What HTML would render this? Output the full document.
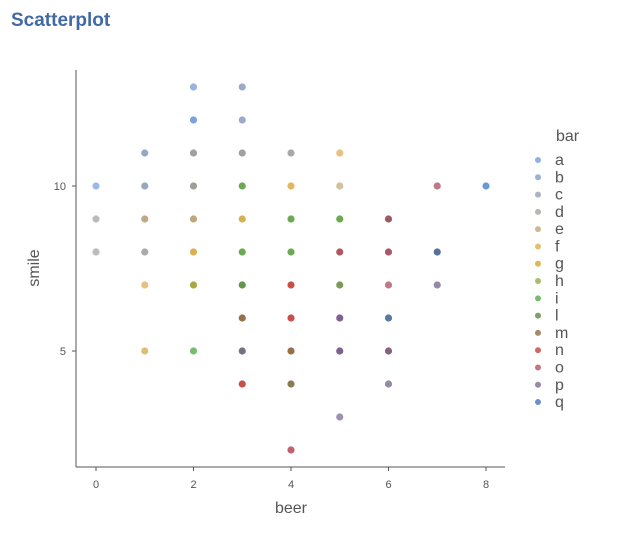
<!DOCTYPE html>
<html><head><meta charset="utf-8"><style>
body{margin:0;background:#fff;}
svg{display:block;font-family:"Liberation Sans",sans-serif;}
</style></head><body>
<svg id="c" width="635" height="539">
<text x="11" y="26" font-size="19" font-weight="bold" fill="#4169a8">Scatterplot</text>
<line x1="76" y1="70" x2="76" y2="467" stroke="#555" stroke-width="1"/>
<line x1="76" y1="467" x2="505" y2="467" stroke="#555" stroke-width="1"/>
<text x="291" y="513" font-size="16" fill="#555" text-anchor="middle">beer</text>
<text transform="translate(39,268) rotate(-90)" font-size="16" fill="#555" text-anchor="middle">smile</text>
<text x="556" y="141" font-size="16" fill="#555">bar</text>
<g id="ticks"></g><g id="pts"></g><g id="leg"></g>
</svg>
<script>
const xTicks=[0,2,4,6,8];
const yTicks=[5,10];
const xs=[0,0,0,1,1,1,1,1,1,2,2,2,2,2,2,2,2,3,3,3,3,3,3,3,3,3,3,4,4,4,4,4,4,4,4,4,5,5,5,5,5,5,5,5,6,6,6,6,6,6,7,7,7,8];
const ys=[10,9,8,11,10,9,8,7,5,13,12,11,10,9,8,7,5,13,12,11,10,9,8,7,6,5,4,11,10,9,8,7,6,5,4,2,11,10,9,8,7,6,5,3,9,8,7,6,5,4,10,8,7,10];
const cols=["#9ab8e8","#bbbbbb","#bbbbbb","#98a8c0","#98a8c0","#c0a880","#aaaaaa","#e8c080","#e0c070","#9ab0e0","#7fa0e0","#a0a0a0","#a09c98","#bca878","#dcb050","#a8a840","#7cbc70","#9aaac8","#9aaac8","#a0a0a0","#6aaa50","#d8b050","#6aaa50","#609848","#987048","#787080","#c85048","#a8a8a8","#e0b860","#6aaa50","#6aaa50","#c85048","#c85048","#987048","#907850","#c06070","#e8c080","#d0c0a0","#6aaa50","#b05860","#7a9a58","#806090","#806090","#a090b0","#a05860","#a85868","#c07888","#5878a8","#886080","#9888a8","#c07888","#5870a0","#9888a8","#6a98d0"];
const legKeys=["a","b","c","d","e","f","g","h","i","l","m","n","o","p","q"];
const legCols=["#8fb0e8","#9ab0d8","#a8b4c4","#bbb6b0","#cdb990","#e8bd70","#d8bc58","#aabd6a","#7cba70","#7fa062","#a88868","#d06860","#c07880","#9a88a8","#6a90c8"];
const NS="http://www.w3.org/2000/svg";
function sx(v){return 96+v*48.75;}
function sy(v){return 516-v*33;}
const tk=document.getElementById('ticks');
xTicks.forEach(v=>{const t=document.createElementNS(NS,'text');t.setAttribute('x',sx(v));t.setAttribute('y',488);t.setAttribute('font-size','11');t.setAttribute('fill','#555');t.setAttribute('text-anchor','middle');t.textContent=v;


tk.appendChild(t);
const l=document.createElementNS(NS,'line');l.setAttribute('x1',sx(v));l.setAttribute('x2',sx(v));l.setAttribute('y1',467);l.setAttribute('y2',471);l.setAttribute('stroke','#555');


tk.appendChild(l);});
yTicks.forEach(v=>{const t=document.createElementNS(NS,'text');t.setAttribute('x',66);t.setAttribute('y',sy(v)+4);t.setAttribute('font-size','11');t.setAttribute('fill','#555');t.setAttribute('text-anchor','end');t.textContent=v;


tk.appendChild(t);
const l=document.createElementNS(NS,'line');l.setAttribute('x1',72);l.setAttribute('x2',76);l.setAttribute('y1',sy(v));l.setAttribute('y2',sy(v));l.setAttribute('stroke','#555');


tk.appendChild(l);});
const pg=document.getElementById('pts');
xs.forEach((x,i)=>{const c=document.createElementNS(NS,'circle');c.setAttribute('cx',sx(x));c.setAttribute('cy',sy(ys[i]));c.setAttribute('r','3.6');c.setAttribute('fill',cols[i]);


pg.appendChild(c);});
const lg=document.getElementById('leg');
legKeys.forEach((k,i)=>{const y=160+i*17.29;const g=document.createElementNS(NS,'g');


const c=document.createElementNS(NS,'circle');c.setAttribute('cx',538);c.setAttribute('cy',y);c.setAttribute('r','3');c.setAttribute('fill',legCols[i]);g.appendChild(c);
const t=document.createElementNS(NS,'text');t.setAttribute('x',555);t.setAttribute('y',y+5);t.setAttribute('font-size','16');t.setAttribute('fill','#555');t.textContent=k;g.appendChild(t);
lg.appendChild(g);});
</script>
</body></html>
